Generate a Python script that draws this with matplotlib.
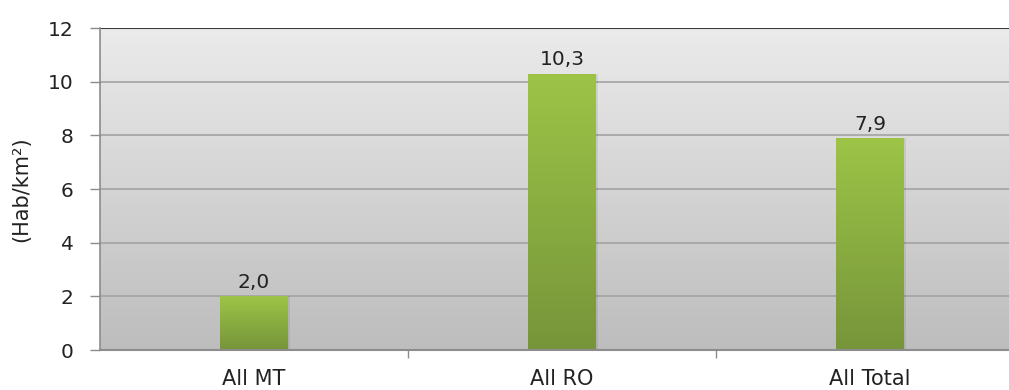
import matplotlib
matplotlib.use("Agg")
import matplotlib.pyplot as plt
import numpy as np
from matplotlib.colors import LinearSegmentedColormap

categories = ["All MT", "All RO", "All Total"]
values = [2.0, 10.3, 7.9]
labels = ["2,0", "10,3", "7,9"]
yticks = [0, 2, 4, 6, 8, 10, 12]
ylabel = "(Hab/km²)"

plt.rcParams['font.family'] = ['DejaVu Sans']

W, H = 1009, 390
fig = plt.figure(figsize=(W / 100, H / 100), dpi=100)
left, right, top, bottom = 100, 1024, 28, 350
ax = fig.add_axes([left / W, 1 - bottom / H, (right - left) / W, (bottom - top) / H])

ax.set_xlim(-0.5, len(categories) - 0.5)
ax.set_ylim(0, 12)

# background gradient
bg_cmap = LinearSegmentedColormap.from_list("bg", ["#bdbdbd", "#ebebeb"])
grad = np.linspace(0, 1, 256).reshape(-1, 1)
ax.imshow(grad, cmap=bg_cmap, aspect="auto", origin="lower",
          extent=[-0.5, len(categories) - 0.5, 0, 12], zorder=0)

# gridlines
for yv in yticks[1:-1]:
    ax.axhline(yv, color="#a3a3a3", lw=1.2, zorder=1)
ax.axhline(12, color="#3a3a3a", lw=1.5, zorder=1)

# bars with gradient
bar_cmap = LinearSegmentedColormap.from_list("bar", ["#76953a", "#9dc447"])
x = np.arange(len(categories))
bars = ax.bar(x, values, width=0.22, color="none", zorder=2)
for b in bars:
    bx, by = b.get_x(), b.get_y()
    bw, bh = b.get_width(), b.get_height()
    ax.bar(bx + bw / 2 + 0.006, bh, width=bw, bottom=by, color="#000000",
           alpha=0.08, zorder=1.5)
    im = ax.imshow(grad, cmap=bar_cmap, aspect="auto", origin="lower",
                   extent=[bx, bx + bw, by, by + bh], zorder=2)
    im.set_clip_path(b)

for xi, v, lab in zip(x, values, labels):
    ax.annotate(lab, (xi, v), xytext=(0, 6), textcoords="offset points",
                ha="center", va="baseline", fontsize=14.5, color="#222222", zorder=3)

ax.set_xlim(-0.5, len(categories) - 0.5)
ax.set_ylim(0, 12)

ax.set_yticks(yticks)
ax.set_yticklabels([str(t) for t in yticks], fontsize=14.5, color="#222222")
ax.tick_params(axis="y", length=7, width=1, color="#8c8c8c", pad=12)

ax.set_xticks(x)
ax.set_xticklabels(categories, fontsize=15, color="#222222")
ax.tick_params(axis="x", which="major", length=0, pad=14)
ax.set_xticks(np.arange(0.5, len(categories) - 0.5, 1), minor=True)
ax.tick_params(axis="x", which="minor", length=6, width=1, color="#8c8c8c")

for s in ["top", "right"]:
    ax.spines[s].set_visible(False)
ax.spines["left"].set_color("#8c8c8c")
ax.spines["bottom"].set_color("#8c8c8c")
ax.spines["left"].set_linewidth(1.2)
ax.spines["bottom"].set_linewidth(1.5)

ax.set_ylabel(ylabel, fontsize=15, color="#222222", labelpad=12)

fig.savefig("out.png", dpi=100)
